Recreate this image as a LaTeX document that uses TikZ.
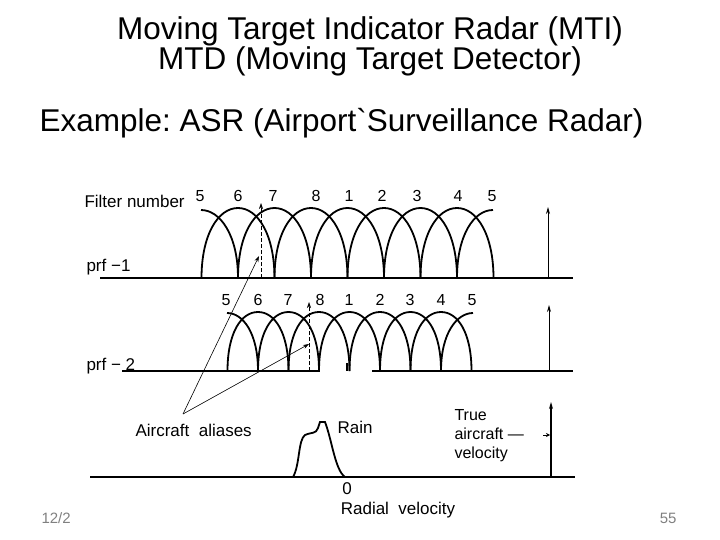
\documentclass[tikz,border=0pt]{standalone}
\usepackage{fontspec}
\setmainfont{Liberation Sans}
\usetikzlibrary{arrows.meta}
\frenchspacing
\begin{document}
\begin{tikzpicture}[x=1pt,y=-1pt,
  lab/.style={font=\fontsize{17}{20}\selectfont},
  num/.style={font=\fontsize{16}{16}\selectfont},
  curve/.style={line width=1.8pt},
  base/.style={line width=1.3pt},
  thin/.style={line width=0.6pt,-{Stealth[length=6pt,width=4pt]}},
]
\useasboundingbox (0,0) rectangle (720,540);
\node (t1) at (370,31) {\fontsize{31.5}{34}\selectfont Moving Target Indicator Radar (MTI)};
\node (t2) at (370,61) {\fontsize{31.5}{34}\selectfont MTD (Moving Target Detector)};
\node[anchor=west] (t3) at (36,123) {\fontsize{31.5}{34}\selectfont Example: ASR (Airport\textasciigrave Surveillance Radar)};
\node[anchor=west,text=gray] (f1) at (38,518) {\fontsize{15}{16}\selectfont 12/2};
\node[anchor=east,text=gray] (f2) at (680,518) {\fontsize{15}{16}\selectfont 55};
% ---- row 1
\node[lab,anchor=west] (fn) at (81,201) {Filter number};
\node[lab,anchor=west] (p1) at (83,267) {prf −1};
\draw[base] (100,278) -- (573,278);
\foreach \c in {238,274.5,311,347.5,384,420.5,457}{
  \draw[curve] (\c-36.5,278) .. controls (\c-36.5,235) and (\c-20,208) .. (\c,208)
     .. controls (\c+20,208) and (\c+36.5,235) .. (\c+36.5,278);}
\draw[curve] (201,210) .. controls (220,210) and (238,235) .. (238,278);
\draw[curve] (493,210) .. controls (474,210) and (457,235) .. (457,278);
\foreach \n/\x in {5/200,6/238,7/273,8/316,1/349,2/382,3/417,4/458,5/492}
  \node[num] at (\x,196) {\n};
\coordinate (a1b) at (261,278); \coordinate (a1t) at (261,203);
\draw[line width=0.6pt,dash pattern=on 4pt off 2pt,-{Stealth[length=6pt,width=4pt]}] (a1b) -- (a1t);
\coordinate (s1b) at (548,278); \coordinate (s1t) at (548,207);
\draw[line width=0.9pt,-{Stealth[length=7pt,width=4pt]}] (s1b) -- (s1t);
% ---- row 2
\node[lab,anchor=west] (p2) at (83,366) {prf − 2};
\draw[base] (122,371) -- (320,371);
\draw[base] (372,371) -- (573,371);
\draw[line width=1.3pt] (347,363) -- (347,371);
\foreach \c in {258,288.5,319,349.5,380,410.5,441}{
  \draw[curve] (\c-30.5,371) .. controls (\c-30.5,333) and (\c-17,312) .. (\c,312)
     .. controls (\c+17,312) and (\c+30.5,333) .. (\c+30.5,371);}
\draw[curve] (227,313) .. controls (243,313) and (258,333) .. (258,371);
\draw[curve] (473,313) .. controls (457,313) and (441,333) .. (441,371);
\foreach \n/\x in {5/226,6/258,7/288,8/320,1/349,2/380,3/410,4/441,5/472}
  \node[num] at (\x,300) {\n};
\coordinate (a2b) at (309,371); \coordinate (a2t) at (309,302);
\draw[line width=0.6pt,dash pattern=on 4pt off 2pt,-{Stealth[length=6pt,width=4pt]}] (a2b) -- (a2t);
\coordinate (s2b) at (549,371); \coordinate (s2t) at (549,305);
\draw[line width=0.9pt,-{Stealth[length=7pt,width=4pt]}] (s2b) -- (s2t);
% ---- aliases
\node[lab,anchor=west] (al) at (132,430) {Aircraft\ \ aliases};
\coordinate (ap) at (183,414);
\coordinate (h1) at (259,256); \coordinate (h2) at (309,344);
\draw[thin] (ap) -- (h1);
\draw[thin] (ap) -- (h2);
% ---- row 3
\draw[base] (90,477) -- (575,477);
\draw[curve] (293,477) .. controls (300,465) and (298,440) .. (305,435)
  .. controls (312,432) and (316,434) .. (318,428) -- (320,422) -- (325,422)
  .. controls (332,440) and (335,470) .. (345,477);
\node[lab,anchor=west] (rain) at (334,427) {Rain};
\node[lab] (zero) at (347,489) {0};
\node[lab] (rv) at (398,510) {Radial\ \ velocity};
\node[anchor=west,align=left,font=\fontsize{16}{19}\selectfont] (tav) at (451,436) {True\\aircraft —\\velocity};
\coordinate (s3b) at (551,477); \coordinate (s3t) at (551,402);
\draw[line width=1.2pt,-{Stealth[length=7pt,width=4pt]}] (s3b) -- (s3t);
\coordinate (ta) at (543,435); \coordinate (tb) at (550,435);
\draw[line width=1pt,-{Stealth[length=4pt,width=4pt]}] (ta) -- (tb);
\end{tikzpicture}
\end{document}
